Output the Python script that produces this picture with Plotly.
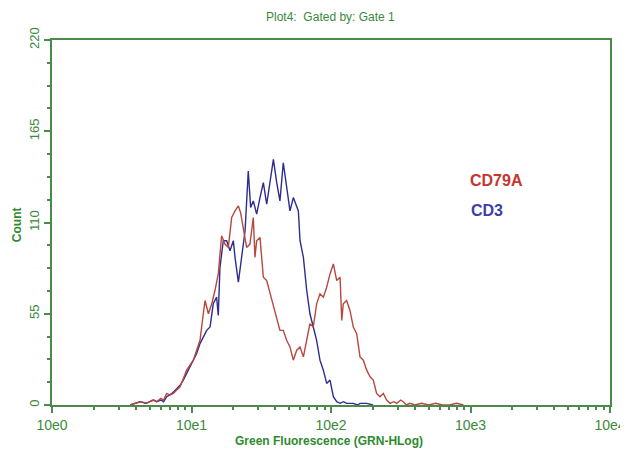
import numpy as np
import plotly.graph_objects as go

# log10 fluorescence positions and counts
cd3_log = [0.56, 0.60, 0.63, 0.67, 0.70, 0.73, 0.75, 0.78, 0.80, 0.822, 0.86, 0.894, 0.92, 0.941, 0.965, 0.989,
           1.013, 1.037, 1.061, 1.085, 1.109, 1.133, 1.156, 1.180, 1.192, 1.204, 1.228, 1.252, 1.276, 1.300,
           1.312, 1.336, 1.360, 1.384, 1.407, 1.424, 1.443, 1.467, 1.491, 1.515, 1.539, 1.563, 1.587, 1.611,
           1.634, 1.658, 1.682, 1.706, 1.730, 1.754, 1.766, 1.778, 1.802, 1.826, 1.849, 1.873, 1.897, 1.921,
           1.945, 1.969, 1.993, 2.017, 2.041, 2.065, 2.09, 2.112, 2.14, 2.160, 2.19, 2.208, 2.256, 2.30]
cd3_count = [0, 1, 2, 1, 2, 3, 2, 3, 2, 5, 7, 10, 12, 15, 19, 23,
             27, 31, 37, 41, 45, 47, 61, 65, 54, 83, 99, 99, 93, 99,
             89, 74, 91, 105, 141, 119, 123, 115, 125, 134, 121, 136, 148, 134,
             123, 146, 130, 117, 125, 119, 117, 99, 89, 69, 55, 47, 39, 27,
             21, 13, 15, 5, 2, 1, 2, 1, 1, 1, 0, 1, 1, 0]

cd79a_log = [0.56, 0.60, 0.64, 0.68, 0.72, 0.75, 0.78, 0.80, 0.822, 0.846, 0.870, 0.894, 0.918, 0.942, 0.965,
             0.989, 1.013, 1.037, 1.061, 1.080, 1.097, 1.121, 1.145, 1.168, 1.192, 1.216, 1.240, 1.264, 1.288,
             1.312, 1.336, 1.352, 1.372, 1.395, 1.419, 1.443, 1.455, 1.467, 1.491, 1.515, 1.539, 1.563, 1.587,
             1.611, 1.634, 1.658, 1.682, 1.706, 1.730, 1.754, 1.778, 1.802, 1.826, 1.849, 1.873, 1.897, 1.921,
             1.945, 1.969, 1.993, 2.017, 2.041, 2.065, 2.077, 2.088, 2.112, 2.136, 2.160, 2.184, 2.208, 2.232,
             2.256, 2.280, 2.303, 2.327, 2.351, 2.375, 2.399, 2.423, 2.45, 2.471, 2.50, 2.518, 2.54, 2.566,
             2.60, 2.65, 2.70, 2.75, 2.80, 2.85, 2.90, 2.95]
cd79a_count = [0, 1, 2, 1, 3, 2, 4, 3, 7, 6, 7, 9, 11, 16, 21,
               24, 27, 33, 39, 52, 63, 55, 61, 69, 79, 102, 97, 95, 113,
               117, 120, 116, 105, 95, 97, 113, 89, 99, 101, 77, 75, 67, 59,
               51, 45, 45, 39, 35, 27, 33, 35, 29, 39, 49, 47, 61, 67,
               65, 71, 79, 85, 75, 77, 51, 61, 63, 57, 47, 43, 29, 27,
               21, 17, 15, 7, 5, 7, 3, 1, 2, 1, 3, 2, 0, 1,
               0, 1, 0, 1, 0, 0, 1, 0]

x_tickvals = [1, 10, 100, 1000, 10000]
x_ticktext = ["10e0", "10e1", "10e2", "10e3", "10e4"]
x_minor_mult = [2, 3, 4, 5, 6, 7, 8, 9]
y_tickvals = [0, 55, 110, 165, 220]

GREEN = "#3a8a3a"
AXIS = "#4a8a4a"
RED_LINE = "#b8473e"
BLUE_LINE = "#2d2d8f"

x_minor_vals = [m * d for d in [1, 10, 100, 1000] for m in x_minor_mult]

fig = go.Figure()
fig.add_trace(go.Scatter(x=np.power(10.0, cd3_log), y=cd3_count, mode="lines",
                         line=dict(color=BLUE_LINE, width=1.4), name="CD3", showlegend=False))
fig.add_trace(go.Scatter(x=np.power(10.0, cd79a_log), y=cd79a_count, mode="lines",
                         line=dict(color=RED_LINE, width=1.4), name="CD79A", showlegend=False))

# the page body adds an 8px offset, so the figure is sized to fit inside the window
fig.update_layout(
    width=620, height=448,
    margin=dict(l=44, r=18, t=32, b=51),
    paper_bgcolor="white", plot_bgcolor="white",
    font=dict(family="Liberation Sans, Arial, sans-serif", color=GREEN),
    title=dict(text="Plot4:  Gated by: Gate 1", x=0.52, xanchor="center", y=0.98, yanchor="middle",
               font=dict(size=12, color=GREEN)),
    xaxis=dict(type="log", range=[0, 4], tickvals=x_tickvals, ticktext=x_ticktext,
               ticks="outside", ticklen=6, tickcolor=AXIS, tickwidth=1.5, automargin=False,
               showline=True, linecolor=AXIS, linewidth=2, mirror=True,
               showgrid=False, zeroline=False, tickfont=dict(size=14, color=GREEN),
               minor=dict(tickvals=x_minor_vals, ticks="outside", ticklen=3, tickcolor=AXIS,
                          showgrid=False)),
    yaxis=dict(range=[0, 220], tickvals=y_tickvals, tickangle=-90, automargin=False,
               ticks="outside", ticklen=6, tickcolor=AXIS, tickwidth=1.5,
               showline=True, linecolor=AXIS, linewidth=2, mirror=True,
               showgrid=False, zeroline=False, tickfont=dict(size=13, color=GREEN),
               minor=dict(dtick=13.75, ticks="outside", ticklen=3, tickcolor=AXIS, showgrid=False)),
    annotations=[
        dict(text="<b>Green Fluorescence (GRN-HLog)</b>", xref="paper", yref="paper",
             x=0.497, y=-0.098, xanchor="center", yanchor="middle", showarrow=False,
             font=dict(size=12, color="#2f8a2f")),
        dict(text="<b>Count</b>", xref="paper", yref="paper", x=-0.063, y=0.495,
             xanchor="center", yanchor="middle", textangle=-90, showarrow=False,
             font=dict(size=12, color="#2f8a2f")),
        dict(text="<b>CD79A</b>", xref="paper", yref="paper", x=0.796, y=0.616,
             xanchor="center", yanchor="middle", showarrow=False,
             font=dict(size=16, color="#c8342f")),
        dict(text="<b>CD3</b>", xref="paper", yref="paper", x=0.780, y=0.532,
             xanchor="center", yanchor="middle", showarrow=False,
             font=dict(size=16, color="#3b3fa8")),
    ],
)

fig.write_html("out.html")
